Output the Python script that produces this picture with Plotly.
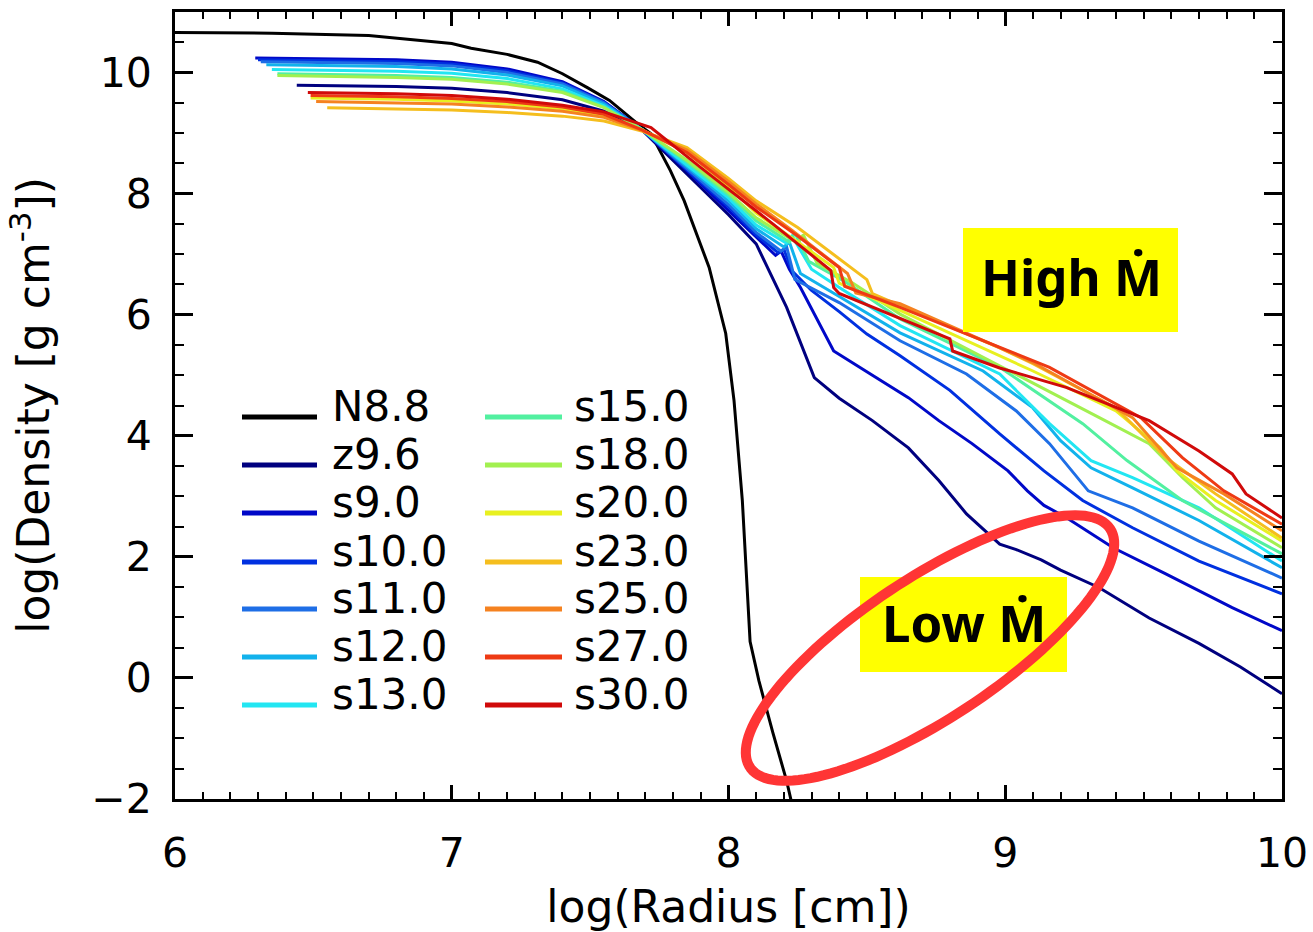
import plotly.graph_objects as go
import numpy as np

# ---------------- data ----------------
names = ["N8.8", "z9.6", "s9.0", "s10.0", "s11.0", "s12.0", "s13.0",
         "s15.0", "s18.0", "s20.0", "s23.0", "s25.0", "s27.0", "s30.0"]
colors = ["#000000", "#00007F", "#0008C8", "#0030E0", "#1E6EE6", "#12B2EC", "#22E6F2",
          "#52F0A0", "#A2F050", "#E8F020", "#F5BE1E", "#F58220", "#EE3A14", "#D00A0A"]

x_N88 = [6.0, 6.35, 6.7, 7.0, 7.07, 7.2, 7.31, 7.4, 7.49, 7.57, 7.67, 7.72, 7.79, 7.84, 7.93, 7.99, 8.02, 8.05, 8.078, 8.11, 8.16, 8.21, 8.23]
y_N88 = [10.66, 10.65, 10.61, 10.48, 10.40, 10.30, 10.17, 9.98, 9.75, 9.54, 9.16, 8.99, 8.38, 7.88, 6.78, 5.69, 4.58, 2.93, 0.60, -0.05, -0.90, -1.70, -2.10]

x_z96 = [6.44, 6.8, 7.0, 7.2, 7.4, 7.55, 7.69, 7.85, 8.0, 8.1, 8.21, 8.31, 8.40, 8.52, 8.65, 8.76, 8.86, 8.98, 9.04, 9.13, 9.20, 9.34, 9.52, 9.70, 9.85, 10.0]
y_z96 = [9.79, 9.77, 9.74, 9.67, 9.55, 9.36, 9.04, 8.33, 7.65, 7.17, 6.12, 4.96, 4.62, 4.25, 3.80, 3.26, 2.71, 2.21, 2.12, 1.95, 1.78, 1.49, 0.99, 0.57, 0.18, -0.26]

x_s9 = [6.29, 6.8, 7.0, 7.2, 7.4, 7.55, 7.69, 7.85, 8.0, 8.1, 8.17, 8.19, 8.22, 8.26, 8.38, 8.52, 8.65, 8.76, 8.88, 9.01, 9.08, 9.14, 9.22, 9.39, 9.58, 9.82, 10.0]
y_s9 = [10.24, 10.21, 10.17, 10.06, 9.85, 9.52, 9.05, 8.38, 7.72, 7.28, 6.98, 7.05, 6.75, 6.45, 5.40, 5.00, 4.63, 4.25, 3.87, 3.42, 3.09, 2.85, 2.65, 2.15, 1.72, 1.16, 0.78]

x_s10 = [6.30, 6.8, 7.0, 7.2, 7.4, 7.55, 7.69, 7.85, 8.0, 8.1, 8.18, 8.20, 8.23, 8.30, 8.40, 8.50, 8.62, 8.80, 8.98, 9.14, 9.28, 9.46, 9.70, 10.0]
y_s10 = [10.21, 10.18, 10.14, 10.03, 9.83, 9.51, 9.05, 8.40, 7.78, 7.32, 7.02, 7.08, 6.72, 6.40, 6.05, 5.68, 5.32, 4.75, 4.03, 3.42, 2.93, 2.48, 1.93, 1.39]

x_s11 = [6.31, 6.8, 7.0, 7.2, 7.4, 7.55, 7.69, 7.85, 8.0, 8.1, 8.19, 8.21, 8.24, 8.40, 8.62, 8.86, 9.04, 9.16, 9.30, 9.46, 9.70, 10.0]
y_s11 = [10.18, 10.15, 10.11, 10.00, 9.81, 9.50, 9.05, 8.42, 7.82, 7.36, 7.05, 7.12, 6.58, 6.20, 5.57, 5.02, 4.41, 3.87, 3.09, 2.81, 2.26, 1.65]

x_s12 = [6.33, 6.8, 7.0, 7.2, 7.4, 7.55, 7.69, 7.85, 8.0, 8.1, 8.20, 8.22, 8.26, 8.40, 8.62, 8.92, 9.10, 9.20, 9.31, 9.46, 9.70, 10.0]
y_s12 = [10.13, 10.10, 10.06, 9.96, 9.78, 9.48, 9.05, 8.45, 7.88, 7.42, 7.12, 7.20, 6.68, 6.30, 5.70, 5.07, 4.46, 3.92, 3.47, 3.14, 2.60, 1.82]

x_s13 = [6.35, 6.8, 7.0, 7.2, 7.4, 7.55, 7.69, 7.85, 8.0, 8.1, 8.21, 8.23, 8.30, 8.40, 8.62, 8.98, 9.16, 9.31, 9.46, 9.70, 10.0]
y_s13 = [10.05, 10.02, 9.99, 9.90, 9.73, 9.45, 9.05, 8.48, 7.93, 7.48, 7.18, 7.30, 6.75, 6.45, 5.82, 5.02, 4.20, 3.59, 3.31, 2.81, 1.93]

x_s15 = [6.37, 6.8, 7.0, 7.2, 7.4, 7.55, 7.69, 7.85, 8.0, 8.1, 8.22, 8.24, 8.29, 8.42, 8.62, 8.98, 9.28, 9.44, 9.64, 10.0]
y_s15 = [9.98, 9.95, 9.92, 9.84, 9.69, 9.43, 9.05, 8.52, 7.98, 7.55, 7.20, 7.35, 6.88, 6.55, 5.93, 5.13, 4.20, 3.59, 2.93, 2.05]

x_s18 = [6.37, 6.8, 7.0, 7.2, 7.4, 7.55, 7.69, 7.85, 8.0, 8.1, 8.25, 8.27, 8.32, 8.45, 8.62, 9.04, 9.34, 9.52, 9.64, 9.76, 10.0]
y_s18 = [9.95, 9.92, 9.89, 9.81, 9.67, 9.42, 9.05, 8.55, 8.02, 7.60, 7.18, 7.32, 6.85, 6.52, 6.01, 5.02, 4.30, 3.87, 3.31, 2.81, 2.15]

x_s20 = [6.49, 6.8, 7.0, 7.2, 7.4, 7.55, 7.69, 7.85, 8.0, 8.1, 8.25, 8.38, 8.40, 8.45, 8.62, 9.10, 9.40, 9.56, 9.62, 9.76, 10.0]
y_s20 = [9.58, 9.56, 9.53, 9.48, 9.40, 9.29, 9.05, 8.68, 8.12, 7.68, 7.20, 6.78, 6.52, 6.42, 6.07, 5.07, 4.41, 3.80, 3.42, 2.93, 2.26]

x_s23 = [6.55, 6.8, 7.0, 7.2, 7.4, 7.55, 7.69, 7.85, 8.0, 8.1, 8.25, 8.50, 8.52, 8.62, 8.98, 9.10, 9.40, 9.58, 9.76, 10.0]
y_s23 = [9.42, 9.40, 9.38, 9.34, 9.28, 9.20, 9.03, 8.76, 8.25, 7.88, 7.44, 6.58, 6.35, 6.15, 5.45, 5.19, 4.46, 3.64, 3.04, 2.31]

x_s25 = [6.51, 6.8, 7.0, 7.2, 7.4, 7.55, 7.69, 7.85, 8.0, 8.1, 8.23, 8.43, 8.46, 8.62, 9.10, 9.46, 9.62, 9.79, 10.0]
y_s25 = [9.52, 9.50, 9.48, 9.43, 9.36, 9.26, 9.04, 8.72, 8.20, 7.83, 7.39, 6.68, 6.36, 6.18, 5.21, 4.30, 3.47, 3.04, 2.43]

x_s27 = [6.49, 6.8, 7.0, 7.2, 7.4, 7.55, 7.69, 7.85, 8.0, 8.1, 8.25, 8.40, 8.42, 8.62, 9.16, 9.49, 9.64, 9.79, 10.0]
y_s27 = [9.62, 9.60, 9.57, 9.52, 9.43, 9.31, 9.05, 8.68, 8.15, 7.78, 7.30, 6.78, 6.47, 6.12, 5.13, 4.30, 3.64, 3.09, 2.54]

x_s30 = [6.48, 6.8, 7.0, 7.2, 7.4, 7.55, 7.72, 7.90, 8.16, 8.37, 8.38, 8.40, 8.80, 8.81, 8.98, 9.22, 9.52, 9.70, 9.82, 9.87, 10.0]
y_s30 = [9.67, 9.65, 9.62, 9.56, 9.46, 9.35, 9.09, 8.43, 7.50, 6.73, 6.45, 6.35, 5.60, 5.40, 5.12, 4.80, 4.25, 3.75, 3.37, 3.04, 2.64]

series_x = [x_N88, x_z96, x_s9, x_s10, x_s11, x_s12, x_s13, x_s15, x_s18, x_s20, x_s23, x_s25, x_s27, x_s30]
series_y = [y_N88, y_z96, y_s9, y_s10, y_s11, y_s12, y_s13, y_s15, y_s18, y_s20, y_s23, y_s25, y_s27, y_s30]

x_ticks = [6, 7, 8, 9, 10]
y_ticks = [-2, 0, 2, 4, 6, 8, 10]
y_ticktext = ["−2", "0", "2", "4", "6", "8", "10"]

# ---------------- layout geometry ----------------
W, H = 1313, 932
ML, MR, MT, MB = 175, 31, 12, 133
PW, PH = W - ML - MR, H - MT - MB


def pxx(p):  # pixel x -> paper
    return (p - ML) / PW


def pxy(p):  # pixel y -> paper
    return (H - MB - p) / PH


fig = go.Figure()
for nm, col, xv, yv in zip(names, colors, series_x, series_y):
    fig.add_trace(go.Scatter(x=xv, y=yv, mode="lines", name=nm,
                             line=dict(color=col, width=3), showlegend=False))

shapes = []
annotations = []

# ---- legend (two columns, drawn manually) ----
row_line_y = [417, 465, 513, 562, 609, 657, 705]
for i, (nm, col) in enumerate(zip(names, colors)):
    c = i // 7
    r = i % 7
    x0, x1, tx = (242, 317, 330) if c == 0 else (485, 562, 572)
    ly = row_line_y[r]
    shapes.append(dict(type="line", xref="paper", yref="paper",
                       x0=pxx(x0), x1=pxx(x1), y0=pxy(ly), y1=pxy(ly),
                       line=dict(color=col, width=5), layer="above"))
    annotations.append(dict(xref="paper", yref="paper", x=pxx(tx), y=pxy(ly - 11),
                            text=nm, showarrow=False, xanchor="left", yanchor="middle",
                            font=dict(family="DejaVu Sans", size=42, color="black")))

# ---- yellow label boxes ----
shapes.append(dict(type="rect", xref="paper", yref="paper",
                   x0=pxx(963), x1=pxx(1178), y0=pxy(332), y1=pxy(228),
                   fillcolor="#FFFF00", line=dict(width=0), layer="above"))
shapes.append(dict(type="rect", xref="paper", yref="paper",
                   x0=pxx(860), x1=pxx(1067), y0=pxy(672), y1=pxy(577),
                   fillcolor="#FFFF00", line=dict(width=0), layer="above"))
annotations.append(dict(xref="paper", yref="paper", x=pxx(1071), y=pxy(276),
                        text="<b>High Ṁ</b>", showarrow=False, xanchor="center", yanchor="middle",
                        font=dict(family="Noto Sans", size=51, color="black")))
annotations.append(dict(xref="paper", yref="paper", x=pxx(964), y=pxy(622),
                        text="<b>Low Ṁ</b>", showarrow=False, xanchor="center", yanchor="middle",
                        font=dict(family="Noto Sans", size=51, color="black")))

# ---- red ellipse highlight ----
cx, cy, a, b, th = 930, 648, 216, 70, np.deg2rad(33.5)
phi = np.linspace(0, 2 * np.pi, 140)
ex = cx + a * np.cos(phi) * np.cos(th) - b * np.sin(phi) * np.sin(th)
ey = cy - (a * np.cos(phi) * np.sin(th) + b * np.sin(phi) * np.cos(th))
path = "M " + " L ".join(f"{pxx(u):.5f},{pxy(v):.5f}" for u, v in zip(ex, ey)) + " Z"
shapes.append(dict(type="path", xref="paper", yref="paper", path=path,
                   line=dict(color="#FF3535", width=10), layer="above"))

axis_font = dict(family="DejaVu Sans", size=41, color="black")
fig.update_layout(
    width=W, height=H,
    margin=dict(l=ML, r=MR, t=MT, b=MB, pad=0, autoexpand=False),
    paper_bgcolor="white", plot_bgcolor="white",
    showlegend=False,
    shapes=shapes, annotations=annotations,
    xaxis=dict(range=[6, 10], tickvals=x_ticks, ticktext=[str(v) for v in x_ticks],
               automargin=False,
               showgrid=False, zeroline=False, showline=True, linecolor="black", linewidth=3,
               mirror="ticks", ticks="inside", ticklen=14, tickwidth=3, tickcolor="black",
               minor=dict(ticks="inside", dtick=0.1, ticklen=7, tickwidth=2, tickcolor="black", showgrid=False),
               tickfont=axis_font, ticklabelstandoff=16,
               title=dict(text="log(Radius [cm])", font=dict(family="DejaVu Sans", size=44, color="black"),
                          standoff=26)),
    yaxis=dict(range=[-2, 11], tickvals=y_ticks, ticktext=y_ticktext,
               automargin=False,
               showgrid=False, zeroline=False, showline=True, linecolor="black", linewidth=3,
               mirror="ticks", ticks="inside", ticklen=18, tickwidth=3, tickcolor="black",
               minor=dict(ticks="inside", dtick=0.5, ticklen=9, tickwidth=2, tickcolor="black", showgrid=False),
               tickfont=axis_font, ticklabelstandoff=12,
               title=dict(text="log(Density [g cm<sup>-3</sup>])",
                          font=dict(family="DejaVu Sans", size=44, color="black"), standoff=28)),
)

fig.write_html("out.html")
